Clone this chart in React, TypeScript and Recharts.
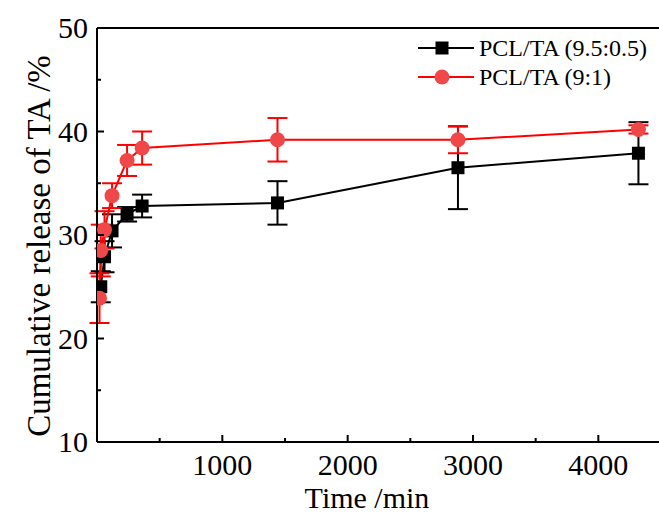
import React from 'react';
import { LineChart, Line, XAxis, YAxis, ErrorBar, ReferenceLine } from 'recharts';

// release data
const timeA = [30, 60, 120, 240, 360, 1440, 2880, 4320];
const releaseA = [25.0, 27.9, 30.4, 32.0, 32.8, 33.1, 36.5, 37.9];
const errorA = [1.5, 1.5, 1.6, 0.7, 1.1, 2.1, 4.0, 3.0];

const timeB = [20, 30, 60, 120, 240, 360, 1440, 2880, 4320];
const releaseB = [23.9, 28.5, 30.5, 33.8, 37.2, 38.4, 39.2, 39.2, 40.2];
const errorB = [2.4, 2.5, 1.8, 1.2, 1.5, 1.6, 2.1, 1.3, 0.4];

const xTicks = [500, 1000, 1500, 2000, 2500, 3000, 3500, 4000, 4500];
const yTicks = [10, 15, 20, 25, 30, 35, 40, 45, 50];

const seriesA = timeA.map((t, i) => ({ t, v: releaseA[i], e: errorA[i] }));
const seriesB = timeB.map((t, i) => ({ t, v: releaseB[i], e: errorB[i] }));

const FONT = '"Liberation Serif", "Times New Roman", serif';
const RED = '#ff0000';
const RED_FILL = '#f04848';

const XTick = (props: any) => {
  const { x, y, payload } = props;
  const major = payload.value % 1000 === 0;
  return (
    <g>
      <line x1={x} y1={y} x2={x} y2={y - (major ? 7 : 4)} stroke="#000" strokeWidth={2} />
      {major && (
        <text x={x} y={y + 33} textAnchor="middle" fontSize={30} fontFamily={FONT} fill="#000">
          {payload.value}
        </text>
      )}
    </g>
  );
};

const YTick = (props: any) => {
  const { x, y, payload } = props;
  const major = payload.value % 10 === 0;
  return (
    <g>
      <line x1={x} y1={y} x2={x + (major ? 7 : 4)} y2={y} stroke="#000" strokeWidth={2} />
      {major && (
        <text x={x - 9} y={y + 10} textAnchor="end" fontSize={30} fontFamily={FONT} fill="#000">
          {payload.value}
        </text>
      )}
    </g>
  );
};

const SquareDot = (props: any) => {
  const { cx, cy, index } = props;
  return <rect key={`sq-${index}`} x={cx - 6.5} y={cy - 6.5} width={13} height={13} fill="#000" />;
};

const CircleDot = (props: any) => {
  const { cx, cy, index } = props;
  return <circle key={`ci-${index}`} cx={cx} cy={cy} r={7.5} fill={RED_FILL} />;
};

export default function App() {
  return (
    <div style={{ position: 'absolute', left: 0, top: 0, width: 659, height: 516, overflow: 'hidden', background: '#fff' }}>
      <LineChart width={680} height={516} margin={{ top: 28, right: 19, bottom: 0, left: 0 }}>
        <XAxis
          type="number"
          dataKey="t"
          domain={[0, 4500]}
          ticks={xTicks}
          allowDataOverflow
          height={74}
          tickSize={0}
          tickMargin={0}
          tick={<XTick />}
          axisLine={{ stroke: '#000', strokeWidth: 2 }}
          interval={0}
        />
        <YAxis
          type="number"
          domain={[10, 50]}
          ticks={yTicks}
          allowDataOverflow
          width={97}
          tickSize={0}
          tickMargin={0}
          tick={<YTick />}
          axisLine={{ stroke: '#000', strokeWidth: 2 }}
          interval={0}
        />
        <ReferenceLine y={50} stroke="#000" strokeWidth={2} />
        <ReferenceLine x={4500} stroke="#000" strokeWidth={2} />
        <Line
          data={seriesA}
          dataKey="v"
          name="PCL/TA (9.5:0.5)"
          stroke="#000"
          strokeWidth={2}
          dot={<SquareDot />}
          isAnimationActive={false}
        >
          <ErrorBar dataKey="e" direction="y" width={10} stroke="#000" strokeWidth={2} />
        </Line>
        <Line
          data={seriesB}
          dataKey="v"
          name="PCL/TA (9:1)"
          stroke={RED}
          strokeWidth={2}
          dot={<CircleDot />}
          isAnimationActive={false}
        >
          <ErrorBar dataKey="e" direction="y" width={10} stroke={RED} strokeWidth={2} />
        </Line>
      </LineChart>
      <svg
        width={659}
        height={516}
        style={{ position: 'absolute', left: 0, top: 0, pointerEvents: 'none' }}
      >
        {/* legend */}
        <line x1={418} y1={48} x2={474} y2={48} stroke="#000" strokeWidth={2} />
        <rect x={435.5} y={41.5} width={13} height={13} fill="#000" />
        <text x={479} y={56} fontSize={24} fontFamily={FONT} fill="#000">PCL/TA (9.5:0.5)</text>
        <line x1={418} y1={77} x2={474} y2={77} stroke={RED} strokeWidth={2} />
        <circle cx={442} cy={77} r={7.5} fill={RED_FILL} />
        <text x={479} y={85} fontSize={24} fontFamily={FONT} fill="#000">PCL/TA (9:1)</text>

        <text x={367} y={508} textAnchor="middle" fontSize={30} fontFamily={FONT} fill="#000">
          Time /min
        </text>
        <text
          x={50}
          y={246}
          textAnchor="middle"
          fontSize={33}
          fontFamily={FONT}
          fill="#000"
          transform="rotate(-90 50 246)"
        >
          Cumulative release of TA /%
        </text>
      </svg>
    </div>
  );
}
